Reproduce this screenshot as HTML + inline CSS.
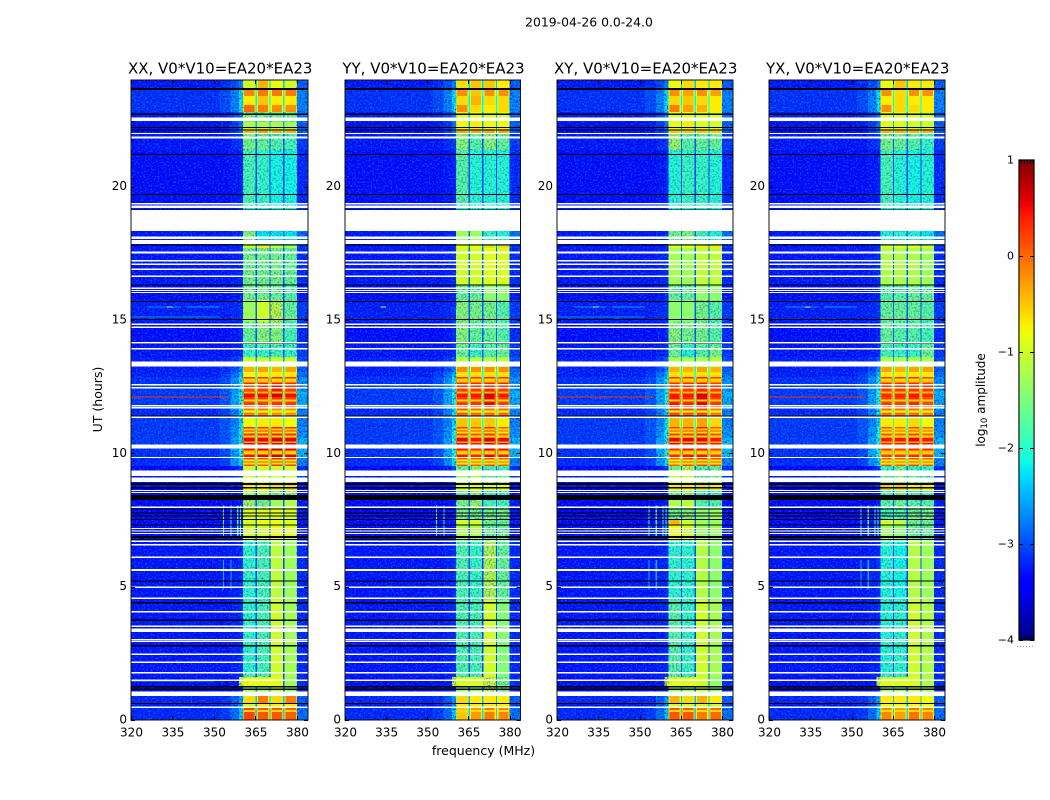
<!DOCTYPE html>
<html lang="en">
<head>
<meta charset="utf-8">
<title>2019-04-26 0.0-24.0</title>
<style>
html,body{margin:0;padding:0;background:#fff;}
svg{display:block;}
text{font-family:"DejaVu Sans","Liberation Sans",sans-serif;fill:#000;}
</style>
</head>
<body>
<svg id="chart" xmlns="http://www.w3.org/2000/svg" width="1050" height="800" viewBox="0 0 1050 800">
  <defs>
    <filter id="speckle-dark" x="0" y="0" width="1" height="1">
      <feTurbulence type="fractalNoise" baseFrequency="0.55" numOctaves="2" seed="4"/>
      <feColorMatrix type="matrix" values="0 0 0 0 0  0 0 0 0 0  0 0 0 0 0.55  3.2 0 0 0 -1.45"/>
    </filter>
    <filter id="speckle-light" x="0" y="0" width="1" height="1">
      <feTurbulence type="fractalNoise" baseFrequency="0.55" numOctaves="2" seed="11"/>
      <feColorMatrix type="matrix" values="0 0 0 0 0  0 0 0 0 0.55  0 0 0 0 1  3.2 0 0 0 -1.5"/>
    </filter>
    <linearGradient id="colorbar-gradient" x1="0" y1="0" x2="0" y2="1"></linearGradient>
  </defs>
  <text x="589" y="26.5" font-size="12.4" text-anchor="middle">2019-04-26 0.0-24.0</text>
  <text x="483.5" y="755" font-size="12.5" text-anchor="middle">frequency (MHz)</text>
  <text x="0" y="0" font-size="12.5" text-anchor="middle" transform="translate(102,399.5) rotate(-90)">UT (hours)</text>
  <text x="0" y="0" font-size="12" text-anchor="middle" transform="translate(985,400) rotate(-90)">log<tspan font-size="8.5" dy="2">10</tspan><tspan dy="-2"> amplitude</tspan></text>
  <g id="panels"></g>
  <g id="colorbar"></g>
</svg>
<script>
// ---- Data ----
const panelNames = ["XX", "YY", "XY", "YX"];
const baselineLabel = "V0*V10=EA20*EA23";
const freqTicks = [320, 335, 350, 365, 380];
const hourTicks = [0, 5, 10, 15, 20];
const colorTicks = [1, 0, -1, -2, -3, -4];

// Frequency channel boundaries (MHz)
const channelEdges = [320, 352, 356, 359, 360.5, 365, 365.5, 370, 370.5, 375, 375.5, 380, 384];

// Time block boundaries (UT hours)
const blockEdges = [0, .49, .64, .9, 1.28, 1.61, 4.5, 6.75, 7.31, 7.5, 7.95, 8.25, 8.6, 8.9, 9.38, 9.53, 9.83, 10.2, 10.58, 10.99, 11.33, 11.7, 12.11, 12.34, 12.6, 12.86, 13.05, 13.24, 13.61, 14.06, 14.93, 15.75, 16.3, 17.7, 17.81, 18.34, 19.31, 21.38, 22.01, 22.16, 22.43, 22.8, 23.06, 23.4, 23.63, 24];

// log10 amplitude per time block for channels shared by all panels
const background = [-3.2, -3.3, -3.2, -3.35, -3.35, -3.3, -3.3, -3.35, -3.4, -3.4, -3.4, -3.45, -3.45, -3.3, -3.45, -3.2, -3.15, -3.1, -3.1, -3.1, -3.2, -3.1, -3.1, -3.1, -3.15, -3.25, -3.25, -3.25, -3.3, -3.35, -3.25, -3.35, -3.3, -3.3, -3.3, -3.3, -3.35, -3.3, -3.35, -3.35, -3.25, -3.15, -3.15, -3.15, -3.3];
const wingA = [-3.1, -3.25, -3.15, -3.35, -3.35, -3.3, -3.3, -3.35, -3.4, -3.4, -3.4, -3.45, -3.45, -3.3, -3.4, -3.05, -3, -2.95, -2.95, -2.95, -3.05, -2.95, -2.95, -2.95, -3, -3.1, -3.2, -3.25, -3.3, -3.35, -3.25, -3.35, -3.3, -3.3, -3.3, -3.3, -3.35, -3.3, -3.3, -3.3, -3.2, -3, -3, -3, -3.2];
const wingB = [-2.8, -3, -2.9, -3.3, -3.3, -3.25, -3.25, -3.3, -3.35, -3.35, -3.35, -3.4, -3.35, -3.2, -3.3, -2.6, -2.5, -2.5, -2.6, -2.7, -2.7, -2.5, -2.5, -2.6, -2.6, -2.8, -3, -3.1, -3.25, -3.3, -3.2, -3.3, -3.25, -3.25, -3.25, -3.25, -3.3, -3.2, -3.1, -3.1, -3, -2.7, -2.7, -2.7, -3];
const wingC = [-2.3, -2.6, -2.5, -3.2, -.9, -3.2, -3.2, -3.25, -3.3, -3.3, -3.3, -3.3, -3.2, -3, -3.1, -2.2, -2, -2, -2.1, -2.2, -2.2, -2, -2, -2.1, -2.1, -2.4, -2.6, -2.9, -3.2, -3.2, -3.15, -3.25, -3.2, -3.2, -3.2, -3.2, -3.25, -3.1, -2.8, -2.8, -2.7, -2.2, -2.2, -2.2, -2.7];
const gapMid = [-2.3, -2.6, -2.4, -2.9, -.9, -3, -3, -2.9, -2.8, -2.9, -2.9, -3, -2.7, -2.5, -2.8, -1.9, -1.6, -1.6, -1.8, -2, -1.9, -1.7, -1.6, -1.8, -1.8, -2, -2.2, -2.6, -2.9, -2.9, -2.9, -3, -2.9, -2.6, -2.8, -2.9, -3, -2.9, -2.5, -2.5, -2.5, -2.1, -2.2, -2.1, -2.4];
const gapLast = [-2.3, -2.6, -2.4, -2.9, -2.9, -3, -3, -2.9, -2.8, -2.9, -2.9, -3, -2.7, -2.5, -2.8, -1.9, -1.6, -1.6, -1.8, -2, -1.9, -1.7, -1.6, -1.8, -1.8, -2, -2.2, -2.6, -2.9, -2.9, -2.9, -3, -2.9, -2.6, -2.8, -2.9, -3, -2.9, -2.5, -2.5, -2.5, -2.1, -2.2, -2.1, -2.4];
const edgeBand = [-2.8, -3.1, -2.9, -3.2, -3.2, -3.2, -3.2, -3.3, -3.3, -3.3, -3.3, -3.4, -3.3, -3.1, -3.2, -2.7, -2.4, -2.4, -2.6, -2.7, -2.7, -2.5, -2.4, -2.6, -2.6, -2.8, -2.9, -3, -3.1, -3.2, -3.1, -3.3, -3.2, -3.1, -2.8, -3.1, -3.2, -3.1, -2.9, -2.9, -2.8, -2.7, -2.7, -2.7, -2.9];

// log10 amplitude of the four sub-bands, per time block, per polarisation panel
const subbandsXX = [[.2,.1,.1,.05],[-1,-.7,-.7,-.7],[-.6,-.1,-.6,-.1],[-1.3,-1.4,-1,-1.4],[-.85,-.85,-.85,-1.3],[-1.95,-1.8,-1,-1.25],[-1.95,-1.8,-1.1,-1.3],[-1,-1,-.85,-.9],[-.9,-.8,-.8,-.9],[-.95,-.9,-.9,-.95],[-1.3,-1.5,-1.3,-1.2],[-1.4,-1.3,-1.5,-1.3],[-.7,-.7,-.6,-.6],[-1,-1,-1,-1],[-1,-1,-1,-1],[.15,.15,.35,.25],[.45,.55,.7,.55],[.55,.55,.65,.55],[.35,.35,.45,.35],[-.8,-.7,-.7,-.8],[-.1,-.1,-.2,-.2],[.25,.25,.3,.25],[.5,.5,.65,.5],[.15,.25,.45,.25],[.35,.35,.4,.35],[-.8,-.7,-.7,-.7],[-.4,-.3,-.4,-.3],[-1,-1,-1,-1],[-1.9,-1.9,-1.8,-1.9],[-1.6,-1.4,-1.4,-1.8],[-1.3,-1,-1.1,-1.6],[-1.5,-1.5,-1.6,-1.7],[-1.5,-1.5,-1.5,-1.6],[-1,-.7,-1,-1.2],[-1.4,-2.2,-2.2,-2.2],[-2,-2,-2,-2],[-1.8,-1.9,-2.1,-2.1],[-1.5,-1.6,-1.7,-1.8],[-.4,-.3,-.4,-.4],[-1.2,-1.2,-1.2,-1.3],[-1.4,-1.5,-1.5,-1.5],[0,-.1,-.2,-.2],[-.7,-.5,-.7,-.7],[-.15,-.1,-.1,-.1],[-1,-.4,-.8,-1]];
const subbandsYY = [[-.5,-.25,-.1,-.15],[-.7,-.7,-.7,-.7],[-.6,-.7,-.7,-.7],[-1.3,-1.4,-1,-1.5],[-.95,-.95,-1,-1.5],[-1.75,-1.8,-1,-1.45],[-1.75,-1.9,-1.15,-1.6],[-1.2,-1.2,-1.6,-1.6],[-1,-1,-1.5,-1.6],[-1.5,-1.5,-1.5,-1.5],[-1.5,-1.3,-1.8,-1.8],[-1.7,-1.4,-1.9,-1.9],[-.8,-.8,-.8,-.8],[-1.3,-1.2,-1.6,-1.6],[-1.6,-1.3,-1.8,-1.8],[.05,.05,.15,.05],[.45,.35,.55,.45],[.55,.45,.65,.55],[.25,.15,.35,.05],[-.5,-.5,-.5,-.7],[.1,0,0,0],[.25,.3,.55,.25],[.45,.45,.65,.45],[.25,.25,.35,.25],[.35,.35,.4,.35],[-.6,-.6,-.6,-.6],[-.2,-.2,-.2,-.2],[-1.1,-1.1,-1.1,-1.1],[-1.6,-1.9,-1.7,-1.6],[-1.4,-1.6,-1.6,-1.7],[-1.4,-1.5,-1.5,-1.7],[-1.6,-1.6,-1.4,-1.4],[-1,-1,-.9,-.95],[-.8,-.8,-.6,-.6],[-1.3,-1.3,-1.9,-2],[-2,-2,-2,-2],[-1.7,-2,-2,-2],[-1.4,-1.7,-1.4,-1.6],[-.3,-.3,-.3,-.3],[-.8,-.7,-.8,-.8],[-.9,-.8,-.9,-.9],[-.2,-.6,-.7,-.6],[-.6,-.4,-.6,-.6],[-.2,-.5,-.2,-.2],[-.6,-.5,-.5,-.7]];
const subbandsXY = [[.1,.1,-.1,0],[-1,-1,-1,-1],[-.4,-.6,-.4,-.7],[-1.3,-1.4,-1,-1.4],[-.9,-.9,-1,-1.4],[-1.7,-1.9,-1,-1.25],[-1.95,-1.95,-1.15,-1.4],[-.8,-1,-1.3,-1.3],[-.4,-1,-1.3,-1.3],[-1.5,-1.4,-1.4,-1.3],[-1.2,-1.1,-1.7,-1.7],[-1.5,-1.3,-1.9,-1.9],[-.7,-.7,-.6,-.7],[-1.1,-1,-1.5,-1.5],[-1.5,-1.1,-1.7,-1.6],[.05,.15,.25,.15],[.35,.45,.45,.25],[.55,.55,.55,.45],[.25,.25,.45,.15],[-.4,-.4,-.3,-.6],[.2,.1,.2,-.1],[.45,.35,.55,.25],[.45,.45,.65,.35],[.25,.25,.35,.25],[.35,.35,.45,.25],[-.6,-.6,-.6,-.6],[-.4,-.4,-.3,-.4],[-1.2,-1.2,-1.2,-1.1],[-1.6,-2,-1.7,-1.5],[-1.4,-1.5,-1.5,-1.7],[-1.4,-1.4,-1.5,-1.7],[-1.6,-1.6,-1.4,-1.4],[-1.25,-1.3,-1.1,-1.1],[-.9,-.8,-.7,-.7],[-1.5,-1.4,-1.8,-2],[-2,-2,-2,-2],[-2,-1.9,-1.9,-2],[-1.3,-1.7,-1.6,-1.6],[-.5,-.5,-.5,-.5],[-.8,-.7,-.9,-1],[-.9,-.8,-.9,-.9],[-.1,-.3,-.4,-.7],[-.6,-.5,-.6,-.7],[-.2,-.3,-.2,-.3],[-.8,-.6,-.7,-.7]];
const subbandsYX = [[-.15,-.3,-.05,-.15],[-.8,-.8,-.8,-.8],[-.7,-.7,-.7,-.8],[-1.3,-1.4,-1,-1.3],[-.95,-.95,-.95,-1.2],[-2,-1.95,-1,-1.2],[-2,-2.1,-1.15,-1.3],[-1.3,-1.4,-1.6,-1.6],[-1,-1.1,-1.5,-1.5],[-1.8,-1.7,-1.5,-1.5],[-1.7,-1.6,-1.7,-1.7],[-1.9,-1.5,-1.8,-1.8],[-.5,-.5,-.7,-.7],[-1.6,-1.4,-1.7,-1.7],[-1.9,-1.6,-1.9,-1.9],[.05,.05,.15,.05],[.25,.25,.35,.35],[.45,.45,.55,.45],[.15,.05,.25,.05],[-.7,-.7,-.6,-.8],[0,0,0,-.1],[.25,.25,.35,.15],[.35,.35,.45,.35],[.25,.25,.25,.25],[.3,.3,.35,.25],[-.7,-.7,-.7,-.7],[-.3,-.4,-.3,-.3],[-1.2,-1.2,-1.2,-1.2],[-1.8,-1.9,-1.9,-1.6],[-1.6,-1.7,-1.7,-1.8],[-1.6,-1.6,-1.6,-1.7],[-1.7,-1.7,-1.6,-1.6],[-1.2,-1.2,-1.2,-1.3],[-.9,-.9,-.8,-.9],[-2,-2,-2,-2.2],[-2,-2,-2,-2],[-1.8,-2,-2.1,-2],[-1.5,-1.6,-1.7,-1.9],[-.4,-.4,-.4,-.4],[-.9,-.9,-1,-1],[-.9,-.9,-.9,-1],[-.2,-.6,-.6,-.7],[-.7,-.6,-.7,-.7],[-.2,-.6,-.2,-.2],[-.8,-.5,-.7,-.7]];
const subbandsByPanel = [subbandsXX, subbandsYY, subbandsXY, subbandsYX];

// Thin dimmer rows that streak across the sub-bands in the bright hours
const streakHourStart = [12.93, 12.74, 12.66, 12.25, 11.95, 11.54, 10.86, 10.75, 10.6, 10.38, 10.04, 9.96, 9.7, 9.59, .3];
const streakHourEnd = [13, 12.81, 12.73, 12.32, 12.02, 11.61, 10.93, 10.82, 10.67, 10.45, 10.11, 10.03, 9.77, 9.66, .37];
const streakValue = [-.7, -.6, -.5, -.5, -.6, -.8, -.6, -.7, -.6, -.4, -.5, -.6, -.7, -.7, -.6];

// Narrow RFI features: start hour, end hour, start MHz, end MHz, log10 amplitude, panels shown
const burstHourStart = [12.09, 15.47, 15.47, 15.47, 15.1, 1.45, 6.9, 6.9, 6.9, 6.9, 4.9, 4.9];
const burstHourEnd = [12.13, 15.51, 15.51, 15.51, 15.14, 1.5, 8.05, 8.05, 8.05, 8.05, 6, 6];
const burstFreqStart = [320, 326, 340, 333, 320, 320, 353.2, 355.9, 358.4, 359.4, 353.2, 355.9];
const burstFreqEnd = [355, 338, 352, 335, 352, 350, 353.6, 356.3, 358.8, 359.8, 353.6, 356.3];
const burstValue = [.3, -2.7, -2.6, -1, -2.7, -2.5, -1.9, -1.9, -1.9, -1.9, -2.5, -2.5];
const burstPanels = [[0, 2, 3], [0, 2, 3], [0, 2, 3], [0, 1, 2, 3], [0, 2], [0], [0, 1, 2, 3], [0, 1, 2, 3], [0, 2, 3], [0, 2, 3], [0, 2, 3], [0, 2, 3]];

// Flagged (blank) time ranges, UT hours
const flaggedStart = [22.47, 21.97, 21.81, 19.33, 19.2, 18.34, 18.03, 17.85, 17.5, 17.19, 17.06, 16.875, 16.61, 16.16, 16.09, 16.01, 14.81, 14.7, 14.12, 13.89, 13.25, 12.54, 12.43, 11.76, 11.68, 11.325, 10.18, 9.825, 9.15, 8.925, 8.59, 8.51, 7.95, 7.16, 7.07, 6.975, 6.675, 6.54, 6.075, 5.59, 4.95, 4.54, 4.03, 3.49, 3.3, 2.98, 2.925, 2.44, 2.14, 1.74, 1.46, .9, .45];
const flaggedEnd = [22.586, 22.01, 21.89, 19.39, 19.29, 19.125, 18.13, 18, 17.57, 17.25, 17.12, 16.93, 16.67, 16.22, 16.125, 16.05, 14.87, 14.76, 14.175, 13.95, 13.45, 12.6, 12.49, 11.81, 11.74, 11.38, 10.33, 9.86, 9.35, 9.1, 8.625, 8.55, 8, 7.2, 7.11, 7.01, 6.73, 6.6, 6.13, 5.66, 5, 4.59, 4.09, 3.54, 3.43, 3.04, 2.96, 2.49, 2.19, 1.8, 1.52, 1.06, .51];

// Very low amplitude (black) time ranges, UT hours
const darkStart = [23.63, 22.69, 22.2, 22.1, 21.19, 19.69, 19.1, 17.79, 16.29, 15.675, 15, 14.1, 11.36, 8.81, 8.68, 8.25, 7.9, 7.75, 7.63, 7.5, 7.3, 6.825, 6.75, 5.19, 4.37, 3.71, 2.76, 1.22, 1.125, .6];
const darkEnd = [23.7, 22.74, 22.24, 22.14, 21.225, 19.725, 19.14, 17.83, 16.33, 15.71, 15.04, 14.14, 11.42, 8.89, 8.74, 8.44, 7.94, 7.79, 7.67, 7.54, 7.34, 6.9, 6.79, 5.23, 4.425, 3.77, 2.81, 1.275, 1.18, .64];

// ---- Layout ----
const SVG_NS = "http://www.w3.org/2000/svg";
const panelLeft = [131, 345, 557, 769];
const panelRight = [308, 520.5, 733, 945];
const plotTop = 80, plotBottom = 720;
const FREQ_MIN = 320, FREQ_MAX = 384, HOUR_MIN = 0, HOUR_MAX = 24;
const CB_LEFT = 1019, CB_RIGHT = 1034, CB_TOP = 160, CB_BOTTOM = 640, CB_MIN = -4, CB_MAX = 1;
const RIM_WIDTH_MHZ = 0.4;

const xScale = (p, f) => panelLeft[p] + (f - FREQ_MIN) / (FREQ_MAX - FREQ_MIN) * (panelRight[p] - panelLeft[p]);
const yScale = h => plotBottom - (h - HOUR_MIN) / (HOUR_MAX - HOUR_MIN) * (plotBottom - plotTop);
const colorY = v => CB_BOTTOM - (v - CB_MIN) / (CB_MAX - CB_MIN) * (CB_BOTTOM - CB_TOP);

// ---- Jet colormap ----
const jetR = [[0,0],[.35,0],[.66,1],[.89,1],[1,.5]];
const jetG = [[0,0],[.125,0],[.375,1],[.64,1],[.91,0],[1,0]];
const jetB = [[0,.5],[.11,1],[.34,1],[.65,0],[1,0]];
function interp(stops, t) {
  for (let i = 1; i < stops.length; i++) {
    if (t <= stops[i][0]) {
      const a = stops[i - 1], b = stops[i];
      return a[1] + (t - a[0]) / (b[0] - a[0]) * (b[1] - a[1]);
    }
  }
  return stops[stops.length - 1][1];
}
function colorOf(v) {
  const t = Math.max(0, Math.min(1, (v - CB_MIN) / (CB_MAX - CB_MIN)));
  return "rgb(" + Math.round(interp(jetR, t) * 255) + "," + Math.round(interp(jetG, t) * 255) + "," + Math.round(interp(jetB, t) * 255) + ")";
}

function svgEl(tag, parent) {
  const el = document.createElementNS(SVG_NS, tag);
  parent.appendChild(el);
  return el;
}
function placeRect(el, x0, x1, y0, y1, fill) {
  el.setAttribute("x", x0);
  el.setAttribute("y", y0);
  el.setAttribute("width", x1 - x0);
  el.setAttribute("height", y1 - y0);
  el.setAttribute("fill", fill);
  el.setAttribute("shape-rendering", "crispEdges");
}
function placeLine(el, x1, y1, x2, y2, stroke) {
  el.setAttribute("x1", x1);
  el.setAttribute("y1", y1);
  el.setAttribute("x2", x2);
  el.setAttribute("y2", y2);
  el.setAttribute("stroke", stroke);
  el.setAttribute("stroke-width", "1");
  el.setAttribute("shape-rendering", "crispEdges");
}
function addNoise(parent, x0, x1, y0, y1, darkOpacity, lightOpacity) {
  const dark = svgEl("rect", parent);
  
  
  placeRect(dark, x0, x1, y0, y1, "#000");
  dark.setAttribute("filter", "url(#speckle-dark)");
  dark.setAttribute("opacity", darkOpacity);
  const light = svgEl("rect", parent);
  
  
  placeRect(light, x0, x1, y0, y1, "#000");
  light.setAttribute("filter", "url(#speckle-light)");
  light.setAttribute("opacity", lightOpacity);
}

const panelsGroup = document.getElementById("panels");

panelNames.forEach((name, p) => {
  const group = svgEl("g", panelsGroup);
  
  

  const heat = svgEl("g", group);
  
  

  const subbands = subbandsByPanel[p];
  for (let b = 0; b < blockEdges.length - 1; b++) {
    const s = subbands[b];
    const rowValues = [background[b], wingA[b], wingB[b], wingC[b], s[0], gapMid[b], s[1], gapMid[b], s[2], gapLast[b], s[3], edgeBand[b]];
    for (let c = 0; c < rowValues.length; c++) {
      const cell = svgEl("rect", heat);
      
      
      placeRect(cell, xScale(p, channelEdges[c]), xScale(p, channelEdges[c + 1]), yScale(blockEdges[b + 1]), yScale(blockEdges[b]), colorOf(rowValues[c]));
    }
  }

  // Thin dimmer rows across the sub-bands
  streakValue.forEach((v, i) => {
    [4, 6, 8, 10].forEach(c => {
      const streak = svgEl("rect", group);
      
      
      placeRect(streak, xScale(p, channelEdges[c]), xScale(p, channelEdges[c + 1]), yScale(streakHourEnd[i]), yScale(streakHourStart[i]), colorOf(v));
    });
  });

  // Roll-off rims: each bright sub-band is a little dimmer at its two edges
  for (let b = 0; b < blockEdges.length - 1; b++) {
    const s = subbands[b];
    [4, 6, 8, 10].forEach((c, k) => {
      if (s[k] < -.6) return;
      const rimLeft = svgEl("rect", group);
      
      
      placeRect(rimLeft, xScale(p, channelEdges[c]), xScale(p, channelEdges[c] + RIM_WIDTH_MHZ), yScale(blockEdges[b + 1]), yScale(blockEdges[b]), colorOf(s[k] - .6));
      const rimRight = svgEl("rect", group);
      
      
      placeRect(rimRight, xScale(p, channelEdges[c + 1] - RIM_WIDTH_MHZ), xScale(p, channelEdges[c + 1]), yScale(blockEdges[b + 1]), yScale(blockEdges[b]), colorOf(s[k] - .6));
    });
  }

  // Receiver noise grain: all of the out-of-band channels, and faint sub-bands only
  addNoise(group, xScale(p, channelEdges[0]), xScale(p, channelEdges[4]), plotTop, plotBottom, "0.7", "0.4");
  addNoise(group, xScale(p, channelEdges[11]), xScale(p, channelEdges[12]), plotTop, plotBottom, "0.7", "0.4");
  for (let b = 0; b < blockEdges.length - 1; b++) {
    const s = subbands[b];
    if (Math.min(s[0], s[1]) < -1.45) {
      addNoise(group, xScale(p, channelEdges[4]), xScale(p, channelEdges[8]), yScale(blockEdges[b + 1]), yScale(blockEdges[b]), "0.4", "0.15");
    }
    if (Math.min(s[2], s[3]) < -1.45) {
      addNoise(group, xScale(p, channelEdges[8]), xScale(p, channelEdges[11]), yScale(blockEdges[b + 1]), yScale(blockEdges[b]), "0.4", "0.15");
    }
  }

  // Narrow interference features
  burstValue.forEach((v, i) => {
    if (!burstPanels[i].includes(p)) return;
    const burst = svgEl("rect", group);
    
    
    placeRect(burst, xScale(p, burstFreqStart[i]), xScale(p, burstFreqEnd[i]), yScale(burstHourEnd[i]), yScale(burstHourStart[i]), colorOf(v));
  });

  // Very low amplitude rows
  darkStart.forEach((h, i) => {
    const dark = svgEl("rect", group);
    
    
    placeRect(dark, panelLeft[p], panelRight[p], yScale(darkEnd[i]), yScale(h), "#000");
  });

  // Flagged rows
  flaggedStart.forEach((h, i) => {
    const gap = svgEl("rect", group);
    
    
    placeRect(gap, panelLeft[p], panelRight[p], yScale(flaggedEnd[i]), yScale(h), "#fff");
  });

  // Frame
  const frame = svgEl("rect", group);
  
  
  frame.setAttribute("x", panelLeft[p]);
  frame.setAttribute("y", plotTop);
  frame.setAttribute("width", panelRight[p] - panelLeft[p]);
  frame.setAttribute("height", plotBottom - plotTop);
  frame.setAttribute("fill", "none");
  frame.setAttribute("stroke", "#111");
  frame.setAttribute("stroke-width", "1");

  // Frequency ticks
  freqTicks.forEach(f => {
    const x = Math.round(xScale(p, f)) + 0.5;
    const bottomTick = svgEl("line", group);
    
    
    placeLine(bottomTick, x, plotBottom, x, plotBottom - 4, "#000");
    const topTick = svgEl("line", group);
    
    
    placeLine(topTick, x, plotTop, x, plotTop + 4, "#000");
    const label = svgEl("text", group);
    
    
    label.setAttribute("x", xScale(p, f) + 0.5);
    label.setAttribute("y", plotBottom + 16.5);
    label.setAttribute("font-size", "12");
    label.setAttribute("text-anchor", "middle");
    label.textContent = f;
  });

  // Hour ticks
  hourTicks.forEach(h => {
    const y = Math.round(yScale(h)) + 0.5;
    const leftTick = svgEl("line", group);
    
    
    placeLine(leftTick, panelLeft[p], y, panelLeft[p] + 4, y, "#000");
    const rightTick = svgEl("line", group);
    
    
    placeLine(rightTick, panelRight[p], y, panelRight[p] - 4, y, "#000");
    const label = svgEl("text", group);
    
    
    label.setAttribute("x", panelLeft[p] - 4);
    label.setAttribute("y", yScale(h) + 3.5);
    label.setAttribute("font-size", "12");
    label.setAttribute("text-anchor", "end");
    label.textContent = h;
  });

  // Panel title
  const title = svgEl("text", group);
  
  
  title.setAttribute("x", (panelLeft[p] + panelRight[p]) / 2 + 0.7);
  title.setAttribute("y", 73.5);
  title.setAttribute("font-size", "15");
  title.setAttribute("text-anchor", "middle");
  title.textContent = name + ", " + baselineLabel;
});

// ---- Colorbar ----
const gradient = document.getElementById("colorbar-gradient");
for (let i = 0; i <= 60; i++) {
  const stop = svgEl("stop", gradient);
  stop.setAttribute("offset", (i / 60));
  stop.setAttribute("stop-color", colorOf(CB_MAX - (i / 60) * (CB_MAX - CB_MIN)));
}
const colorbarGroup = document.getElementById("colorbar");
const cbOutline = svgEl("rect", colorbarGroup);


cbOutline.setAttribute("x", CB_LEFT - 1);
cbOutline.setAttribute("y", CB_TOP - 1);
cbOutline.setAttribute("width", CB_RIGHT - CB_LEFT + 2);
cbOutline.setAttribute("height", CB_BOTTOM - CB_TOP + 2);
cbOutline.setAttribute("fill", "#c8c8c8");

const cbBar = svgEl("rect", colorbarGroup);


cbBar.setAttribute("x", CB_LEFT);
cbBar.setAttribute("y", CB_TOP);
cbBar.setAttribute("width", CB_RIGHT - CB_LEFT);
cbBar.setAttribute("height", CB_BOTTOM - CB_TOP);
cbBar.setAttribute("fill", "url(#colorbar-gradient)");
cbBar.setAttribute("stroke", "#000");
cbBar.setAttribute("stroke-width", "1");

colorTicks.forEach(v => {
  const y = Math.round(colorY(v)) + 0.5;
  const leftTick = svgEl("line", colorbarGroup);
  
  
  placeLine(leftTick, CB_LEFT, y, CB_LEFT + 4, y, "#000");
  const rightTick = svgEl("line", colorbarGroup);
  
  
  placeLine(rightTick, CB_RIGHT - 4, y, CB_RIGHT, y, "#000");
  const label = svgEl("text", colorbarGroup);
  
  
  label.setAttribute("x", CB_LEFT - 5);
  label.setAttribute("y", colorY(v) + 3.5);
  label.setAttribute("font-size", "11");
  label.setAttribute("text-anchor", "end");
  label.textContent = v < 0 ? "\u2212" + Math.abs(v) : String(v);
});

// Minor ticks at the two ends of the colorbar
for (let i = 0; i < 5; i++) {
  const tx = CB_LEFT + 2.5 + i * 3;
  const topMinor = svgEl("line", colorbarGroup);
  
  
  placeLine(topMinor, tx, CB_TOP, tx, CB_TOP + 4, "#000");
  const bottomMinor = svgEl("line", colorbarGroup);
  
  
  placeLine(bottomMinor, tx, CB_BOTTOM - 4, tx, CB_BOTTOM, "#000");
}

const cbDots = svgEl("line", colorbarGroup);


placeLine(cbDots, CB_LEFT - 2, 646.5, CB_RIGHT + 1, 646.5, "#999");
cbDots.setAttribute("stroke-dasharray", "1 2");
</script>
</body>
</html>
